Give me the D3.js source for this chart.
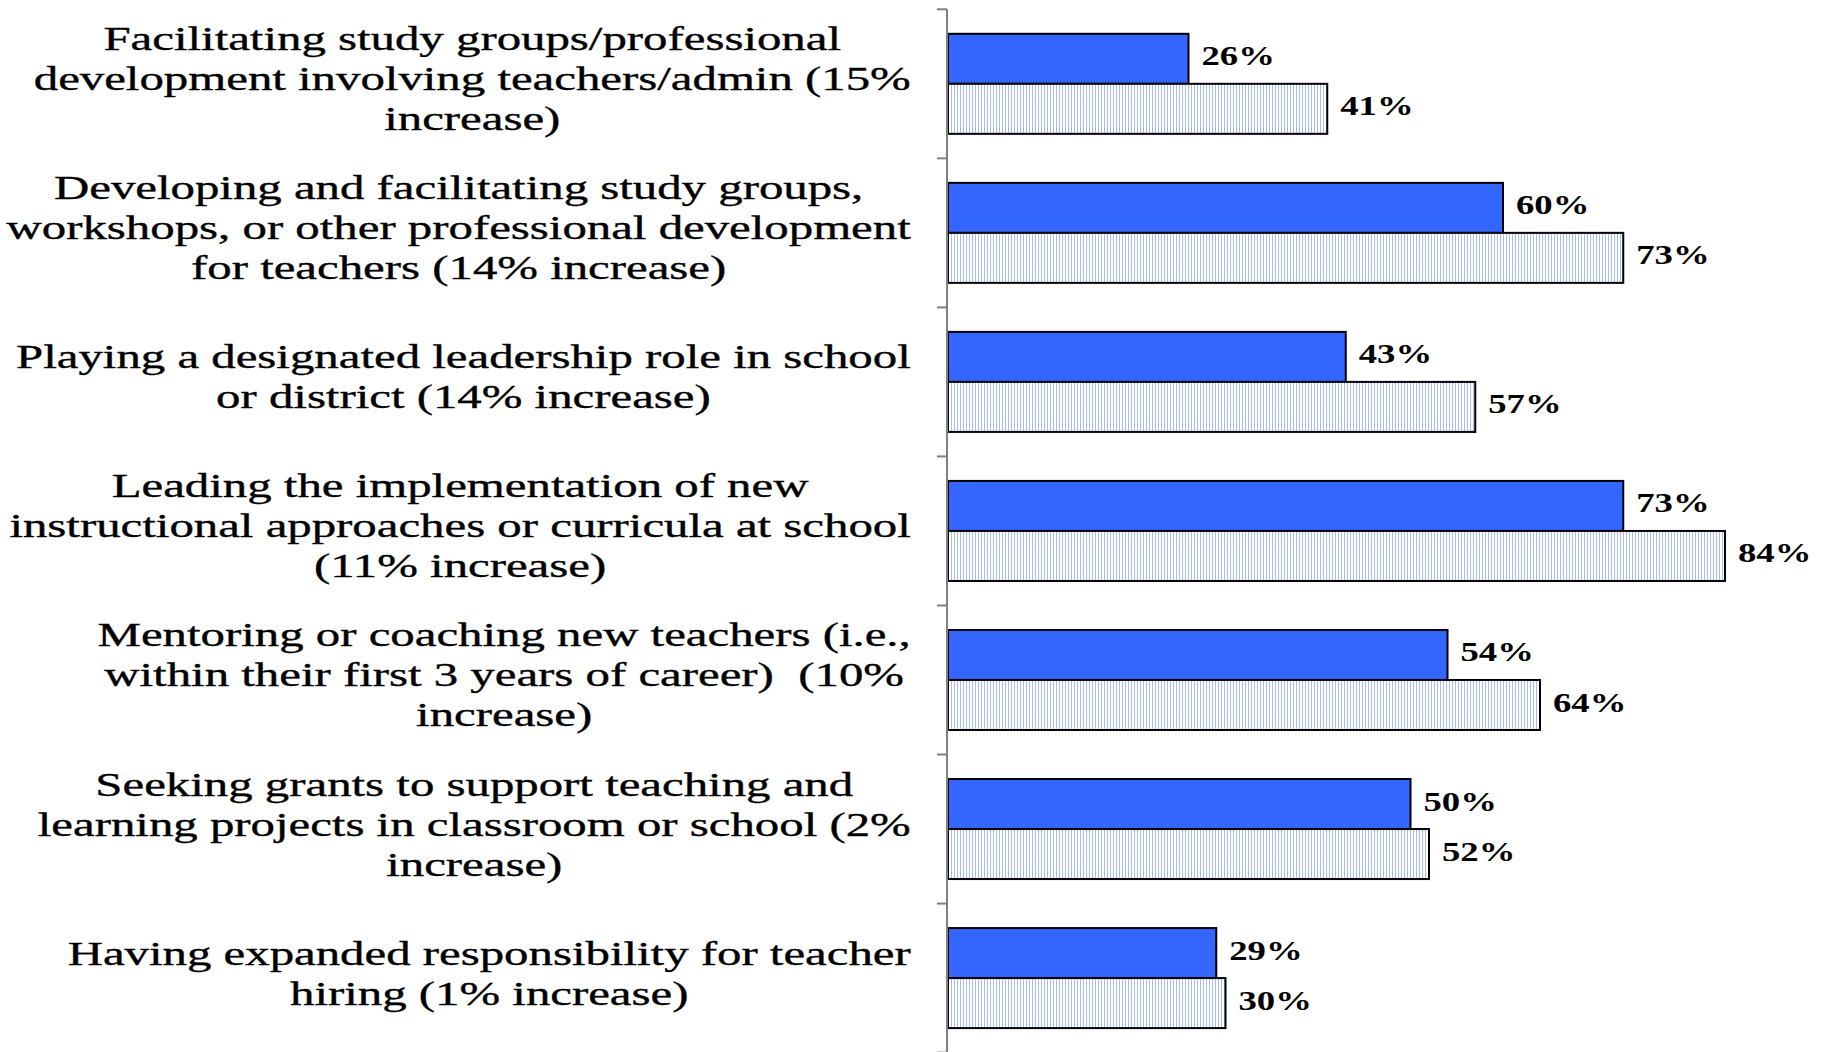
<!DOCTYPE html>
<html>
<head>
<meta charset="utf-8">
<script src="https://cdn.jsdelivr.net/npm/d3@7"></script>
<style>
  html, body { margin: 0; padding: 0; background: #ffffff; }
  svg { display: block; }
  text { font-family: "Liberation Serif", "Times New Roman", serif; fill: #000; }
</style>
</head>
<body>
<svg id="chart" width="1826" height="1052"></svg>
<script>
// Activities (line breaks as the labels wrap)
const categories = [
  "Facilitating study groups/professional\ndevelopment involving teachers/admin (15%\nincrease)",
  "Developing and facilitating study groups,\nworkshops, or other professional development\nfor teachers (14% increase)",
  "Playing a designated leadership role in school\nor district (14% increase)",
  "Leading the implementation of new\ninstructional approaches or curricula at school\n(11% increase)",
  "Mentoring or coaching new teachers (i.e.,\nwithin their first 3 years of career)  (10%\nincrease)",
  "Seeking grants to support teaching and\nlearning projects in classroom or school (2%\nincrease)",
  "Having expanded responsibility for teacher\nhiring (1% increase)"
];
const seriesNames = ["before", "after"];
const valuesBefore = [26, 60, 43, 73, 54, 50, 29];
const valuesAfter  = [41, 73, 57, 84, 64, 52, 30];

const svg = d3.select("#chart");
const W = 1826, H = 1052;

const axisX = 947;
const y = d3.scaleBand().domain(categories).range([9.3, 1052.6]).padding(0);
const inner = d3.scaleBand().domain(seriesNames).range([0, y.bandwidth()]).paddingInner(0).paddingOuter(0.49);
const x = d3.scaleLinear().domain([0, 100]).range([axisX + 1, axisX + 1 + 925]);

// Vertical stripe fill for the second series
const defs = svg.append("defs");
const pat = defs.append("pattern")
  .attr("id", "stripes").attr("patternUnits", "userSpaceOnUse")
  .attr("width", 3).attr("height", 10);
pat.append("rect").attr("width", 3).attr("height", 10).attr("fill", "#ffffff");
pat.append("rect").attr("x", 0).attr("width", 1).attr("height", 10).attr("fill", "#a6bbff");

const rows = categories.map((c, i) => ({ cat: c, before: valuesBefore[i], after: valuesAfter[i] }));

// Bars
const groups = svg.append("g").selectAll("g").data(rows).join("g")
  .attr("transform", d => `translate(0,${y(d.cat)})`);

groups.selectAll("rect").data(d => seriesNames.map(k => ({ key: k, value: d[k] }))).join("rect")
  .attr("x", x(0))
  .attr("y", d => inner(d.key))
  .attr("width", d => x(d.value) - x(0))
  .attr("height", inner.bandwidth())
  .attr("fill", d => d.key === "before" ? "#3366ff" : "url(#stripes)")
  .attr("stroke", "#000").attr("stroke-width", 2);

// Value labels
const valSx = 1.36;
groups.selectAll("text.val").data(d => seriesNames.map(k => ({ key: k, value: d[k] }))).join("text")
  .attr("class", "val")
  .attr("transform", d => `translate(${x(d.value) + 13},${inner(d.key) + inner.bandwidth() / 2 + 6.5}) scale(${valSx},1)`)
  .attr("font-size", 27).attr("font-weight", "bold")
  .text(d => d.value + "%");

// Category axis: vertical line with ticks at band boundaries
const axisG = svg.append("g").attr("transform", `translate(${axisX},0)`);
axisG.append("line").attr("x1", 0).attr("x2", 0).attr("y1", 9.3).attr("y2", H)
  .attr("stroke", "#808080").attr("stroke-width", 2);
const boundaries = categories.map(c => y(c)).concat([y.range()[1]]);
axisG.selectAll("line.tick").data(boundaries).join("line")
  .attr("class", "tick")
  .attr("x1", -10).attr("x2", 0).attr("y1", d => d).attr("y2", d => d)
  .attr("stroke", "#808080").attr("stroke-width", 2);

// Category labels: each block right-aligned, lines centred within it
const labSx = 1.48, labSize = 33, lineH = 40, labRight = 911;
const labels = svg.append("g");
rows.forEach(r => {
  const lines = r.cat.split("\n");
  const cy = y(r.cat) + y.bandwidth() / 2;
  const g = labels.append("g");
  const ts = lines.map((ln, i) => g.append("text")
    .attr("font-size", labSize)
    .attr("text-anchor", "middle")
    .attr("xml:space", "preserve")
    .attr("stroke", "#000").attr("stroke-width", 0.35)
    .text(ln));
  const maxW = d3.max(ts, t => t.node().getComputedTextLength()) * labSx;
  const cx = labRight - maxW / 2;
  ts.forEach((t, i) => {
    const by = cy + 6.5 + (i - (lines.length - 1) / 2) * lineH;
    t.attr("transform", `translate(${cx},${by}) scale(${labSx},1)`);
  });
});
</script>
</body>
</html>
